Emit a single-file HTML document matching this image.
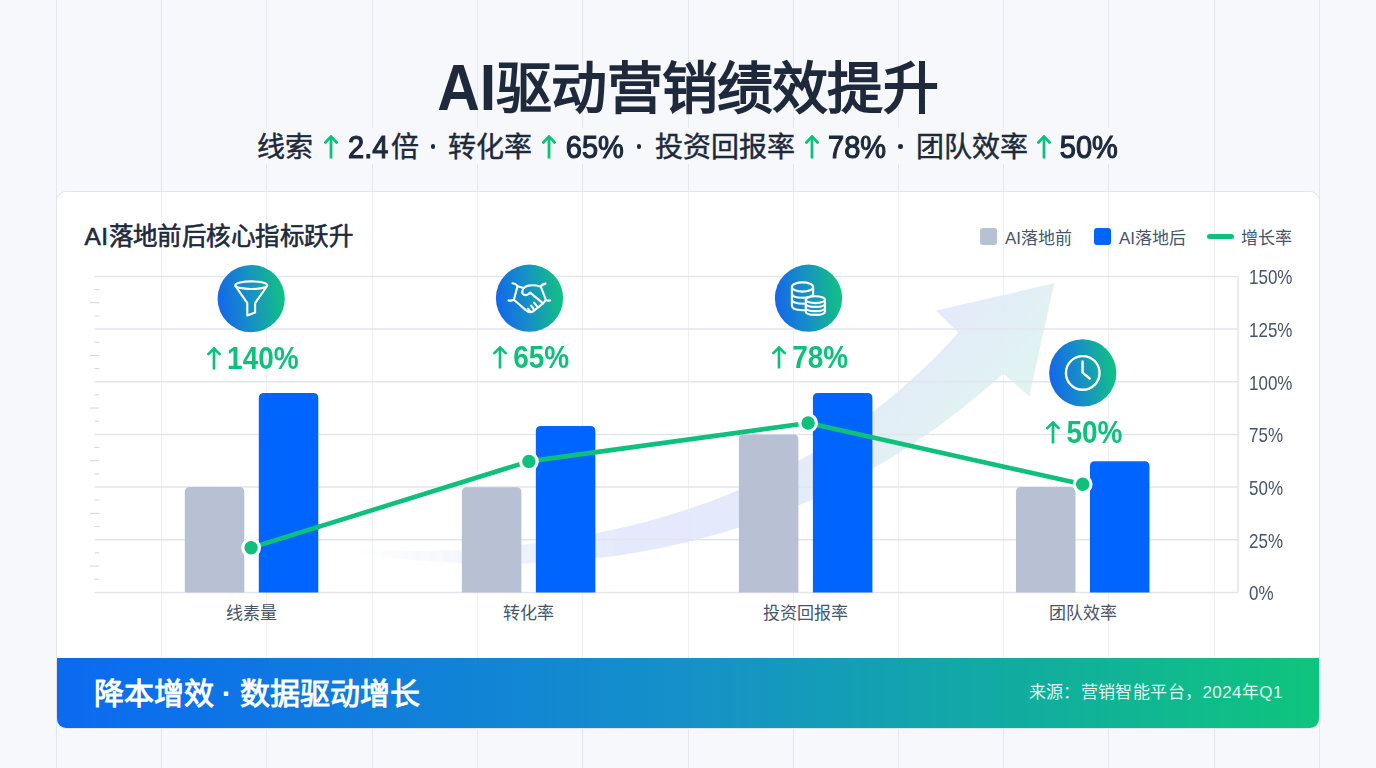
<!DOCTYPE html>
<html lang="zh-CN">
<head>
<meta charset="utf-8">
<title>AI驱动营销绩效提升</title>
<style>
*{margin:0;padding:0;box-sizing:border-box;}
html,body{width:1376px;height:768px;overflow:hidden;}
body{position:relative;background:#f6f8fb;font-family:"Liberation Sans",sans-serif;color:#1e293b;}
.vl{position:absolute;top:0;width:1px;height:768px;background:#e3e7ee;}
.abs{position:absolute;white-space:nowrap;}
#title{left:-0.5px;width:1376px;top:51.5px;text-align:center;font-size:56px;font-weight:700;line-height:72px;color:#1e293b;}
.sp{top:128px;font-size:28px;font-weight:400;-webkit-text-stroke:0.45px #1e293b;line-height:40px;color:#1e293b;}
.spn{font-size:29px;top:127px;transform:scaleY(1.08);font-weight:400;-webkit-text-stroke:1.1px #1e293b;}
.ar{display:inline-block;vertical-align:baseline;}
#card{position:absolute;left:57px;top:192px;width:1262px;height:536px;box-shadow:0 0 0 1px #e2e6ec;border-radius:9px;background:#fff;overflow:hidden;}
.vi{position:absolute;top:192px;width:1px;height:466px;background:#eef0f5;}
#banner{position:absolute;left:0;bottom:0;width:1262px;height:70px;background:linear-gradient(90deg,#0a6af1 0%,#1591c8 50%,#0ec57d 100%);}
#ctitle{left:84.5px;top:219.5px;font-size:24.5px;font-weight:400;letter-spacing:0.45px;-webkit-text-stroke:0.6px #1e293b;line-height:34px;color:#1e293b;}
.leg{position:absolute;font-size:17px;color:#475569;line-height:24px;top:226.5px;white-space:nowrap;}
.sq{position:absolute;width:17px;height:17px;border-radius:3px;top:228px;}
.yl{position:absolute;font-size:17px;color:#475569;line-height:20px;left:1249px;white-space:nowrap;transform:scaleY(1.15);}
.xl{position:absolute;font-size:17px;color:#475569;line-height:24px;top:602px;text-align:center;width:160px;white-space:nowrap;}
.pct{position:absolute;font-size:28px;font-weight:700;color:#0fc07c;line-height:34px;text-align:center;width:160px;white-space:nowrap;}
#bl{left:93.5px;top:674px;font-size:30px;font-weight:700;color:#fff;line-height:40px;}
#br{left:1028.5px;top:680.5px;font-size:17px;letter-spacing:0.4px;color:rgba(255,255,255,0.88);line-height:24px;}
#chart{position:absolute;left:0;top:0;}
</style>
</head>
<body>
<div class="vl" style="left:56px"></div>
<div class="vl" style="left:161px"></div>
<div class="vl" style="left:266px"></div>
<div class="vl" style="left:372px"></div>
<div class="vl" style="left:477px"></div>
<div class="vl" style="left:582px"></div>
<div class="vl" style="left:688px"></div>
<div class="vl" style="left:793px"></div>
<div class="vl" style="left:898px"></div>
<div class="vl" style="left:1003px"></div>
<div class="vl" style="left:1108px"></div>
<div class="vl" style="left:1214px"></div>
<div class="vl" style="left:1319px"></div>
<div id="card"><div id="banner"></div></div>
<div class="vi" style="left:161px"></div>
<div class="vi" style="left:266px"></div>
<div class="vi" style="left:372px"></div>
<div class="vi" style="left:477px"></div>
<div class="vi" style="left:582px"></div>
<div class="vi" style="left:688px"></div>
<div class="vi" style="left:793px"></div>
<div class="vi" style="left:898px"></div>
<div class="vi" style="left:1003px"></div>
<div class="vi" style="left:1108px"></div>
<div class="vi" style="left:1214px"></div>
<svg id="chart" width="1376" height="768" viewBox="0 0 1376 768">
<defs>
<linearGradient id="ig" x1="0" y1="0.56" x2="1" y2="0.44">
<stop offset="0" stop-color="#1466ea"/><stop offset="0.5" stop-color="#1693c2"/><stop offset="1" stop-color="#12c27f"/>
</linearGradient>
<linearGradient id="ig3" gradientUnits="userSpaceOnUse" x1="774.9" y1="302.23" x2="842.1" y2="294.17">
<stop offset="0" stop-color="#1466ea"/><stop offset="0.5" stop-color="#1693c2"/><stop offset="1" stop-color="#12c27f"/>
</linearGradient>
<linearGradient id="sw" gradientUnits="userSpaceOnUse" x1="625" y1="625" x2="712" y2="712">
<stop offset="0" stop-color="#e2e9fb"/>
<stop offset="1" stop-color="#ddf4ef"/>
</linearGradient>
<linearGradient id="swf" gradientUnits="userSpaceOnUse" x1="350" y1="0" x2="620" y2="0">
<stop offset="0" stop-color="#fff" stop-opacity="0"/>
<stop offset="1" stop-color="#fff" stop-opacity="1"/>
</linearGradient>
<mask id="swm" maskUnits="userSpaceOnUse" x="0" y="0" width="1376" height="768"><rect x="0" y="0" width="1376" height="768" fill="url(#swf)"/></mask>
</defs>
<path d="M340.0 547.8 L348.0 548.5 L356.0 549.1 L364.0 549.6 L372.0 550.0 L380.0 550.4 L388.0 550.7 L396.0 550.9 L404.0 551.0 L412.0 551.1 L420.0 551.1 L428.0 551.0 L436.0 550.8 L444.0 550.6 L452.0 550.3 L460.0 549.9 L468.0 549.5 L476.0 549.0 L484.0 548.4 L492.0 547.8 L500.0 547.1 L508.0 546.4 L516.0 545.5 L524.0 544.6 L532.0 543.6 L540.0 542.6 L548.0 541.5 L556.0 540.3 L564.0 539.0 L572.0 537.7 L580.0 536.3 L588.0 534.8 L596.0 533.3 L604.0 531.6 L612.0 529.9 L620.0 528.1 L628.0 526.2 L636.0 524.3 L644.0 522.2 L652.0 520.0 L660.0 517.8 L668.0 515.5 L676.0 513.0 L684.0 510.5 L692.0 507.8 L700.0 505.1 L708.0 502.2 L716.0 499.2 L724.0 496.1 L732.0 492.9 L740.0 489.6 L748.0 486.1 L756.0 482.5 L764.0 478.7 L772.0 474.8 L780.0 470.8 L788.0 466.6 L796.0 462.3 L804.0 457.8 L812.0 453.2 L820.0 448.4 L828.0 443.4 L836.0 438.2 L844.0 432.8 L852.0 427.3 L860.0 421.6 L868.0 415.6 L876.0 409.5 L884.0 403.1 L892.0 396.6 L900.0 389.8 L908.0 382.8 L916.0 375.5 L924.0 368.0 L932.0 360.3 L940.0 352.3 L948.0 344.0 L956.0 335.5 L958.5 332.6 L935.9 310.5 L1054.3 283.3 L1029.3 396.6 L1003.9 374.0 L1000.0 376.5 L992.0 383.5 L984.0 390.4 L976.0 397.1 L968.0 403.6 L960.0 409.9 L952.0 416.1 L944.0 422.1 L936.0 427.9 L928.0 433.6 L920.0 439.1 L912.0 444.5 L904.0 449.7 L896.0 454.8 L888.0 459.7 L880.0 464.5 L872.0 469.1 L864.0 473.6 L856.0 478.0 L848.0 482.2 L840.0 486.3 L832.0 490.3 L824.0 494.1 L816.0 497.8 L808.0 501.4 L800.0 504.9 L792.0 508.2 L784.0 511.4 L776.0 514.6 L768.0 517.6 L760.0 520.5 L752.0 523.3 L744.0 525.9 L736.0 528.5 L728.0 531.0 L720.0 533.4 L712.0 535.6 L704.0 537.8 L696.0 539.9 L688.0 541.9 L680.0 543.8 L672.0 545.6 L664.0 547.3 L656.0 548.9 L648.0 550.4 L640.0 551.8 L632.0 553.2 L624.0 554.5 L616.0 555.7 L608.0 556.8 L600.0 557.8 L592.0 558.7 L584.0 559.6 L576.0 560.4 L568.0 561.1 L560.0 561.7 L552.0 562.2 L544.0 562.7 L536.0 563.1 L528.0 563.4 L520.0 563.7 L512.0 563.8 L504.0 563.9 L496.0 564.0 L488.0 563.9 L480.0 563.8 L472.0 563.6 L464.0 563.3 L456.0 563.0 L448.0 562.6 L440.0 562.1 L432.0 561.6 L424.0 560.9 L416.0 560.2 L408.0 559.5 L400.0 558.6 L392.0 557.7 L384.0 556.7 L376.0 555.6 L368.0 554.5 L360.0 553.3 L352.0 552.0 L344.0 550.6 L340.0 549.9 Z" fill="url(#sw)" mask="url(#swm)" opacity="0.92"/>
<line x1="94.5" y1="592.40" x2="1238.0" y2="592.40" stroke="#e3e5ec" stroke-width="1.5"/>
<line x1="94.5" y1="539.73" x2="1238.0" y2="539.73" stroke="#e3e5ec" stroke-width="1.5"/>
<line x1="94.5" y1="487.06" x2="1238.0" y2="487.06" stroke="#e3e5ec" stroke-width="1.5"/>
<line x1="94.5" y1="434.39" x2="1238.0" y2="434.39" stroke="#e3e5ec" stroke-width="1.5"/>
<line x1="94.5" y1="381.72" x2="1238.0" y2="381.72" stroke="#e3e5ec" stroke-width="1.5"/>
<line x1="94.5" y1="329.05" x2="1238.0" y2="329.05" stroke="#e3e5ec" stroke-width="1.5"/>
<line x1="94.5" y1="276.38" x2="1238.0" y2="276.38" stroke="#e3e5ec" stroke-width="1.5"/>
<line x1="1238.0" y1="276.38" x2="1238.0" y2="592.40" stroke="#e3e5ec" stroke-width="1.5"/>
<line x1="94.6" y1="579.23" x2="99.2" y2="579.23" stroke="#cfd5e1" stroke-width="1"/>
<line x1="89.9" y1="566.06" x2="99.2" y2="566.06" stroke="#cfd5e1" stroke-width="1"/>
<line x1="94.6" y1="552.90" x2="99.2" y2="552.90" stroke="#cfd5e1" stroke-width="1"/>
<line x1="94.6" y1="526.56" x2="99.2" y2="526.56" stroke="#cfd5e1" stroke-width="1"/>
<line x1="89.9" y1="513.39" x2="99.2" y2="513.39" stroke="#cfd5e1" stroke-width="1"/>
<line x1="94.6" y1="500.23" x2="99.2" y2="500.23" stroke="#cfd5e1" stroke-width="1"/>
<line x1="94.6" y1="473.89" x2="99.2" y2="473.89" stroke="#cfd5e1" stroke-width="1"/>
<line x1="89.9" y1="460.72" x2="99.2" y2="460.72" stroke="#cfd5e1" stroke-width="1"/>
<line x1="94.6" y1="447.56" x2="99.2" y2="447.56" stroke="#cfd5e1" stroke-width="1"/>
<line x1="94.6" y1="421.22" x2="99.2" y2="421.22" stroke="#cfd5e1" stroke-width="1"/>
<line x1="89.9" y1="408.06" x2="99.2" y2="408.06" stroke="#cfd5e1" stroke-width="1"/>
<line x1="94.6" y1="394.89" x2="99.2" y2="394.89" stroke="#cfd5e1" stroke-width="1"/>
<line x1="94.6" y1="368.55" x2="99.2" y2="368.55" stroke="#cfd5e1" stroke-width="1"/>
<line x1="89.9" y1="355.38" x2="99.2" y2="355.38" stroke="#cfd5e1" stroke-width="1"/>
<line x1="94.6" y1="342.22" x2="99.2" y2="342.22" stroke="#cfd5e1" stroke-width="1"/>
<line x1="94.6" y1="315.88" x2="99.2" y2="315.88" stroke="#cfd5e1" stroke-width="1"/>
<line x1="89.9" y1="302.71" x2="99.2" y2="302.71" stroke="#cfd5e1" stroke-width="1"/>
<line x1="94.6" y1="289.55" x2="99.2" y2="289.55" stroke="#cfd5e1" stroke-width="1"/>
<path d="M184.80 592.40 L184.80 491.90 Q184.80 486.90 189.80 486.90 L239.30 486.90 Q244.30 486.90 244.30 491.90 L244.30 592.40 Z" fill="#b8c1d3"/>
<path d="M258.80 592.40 L258.80 397.90 Q258.80 392.90 263.80 392.90 L313.30 392.90 Q318.30 392.90 318.30 397.90 L318.30 592.40 Z" fill="#0064fe"/>
<path d="M461.85 592.40 L461.85 492.20 Q461.85 487.20 466.85 487.20 L516.35 487.20 Q521.35 487.20 521.35 492.20 L521.35 592.40 Z" fill="#b8c1d3"/>
<path d="M535.85 592.40 L535.85 431.00 Q535.85 426.00 540.85 426.00 L590.35 426.00 Q595.35 426.00 595.35 431.00 L595.35 592.40 Z" fill="#0064fe"/>
<path d="M738.90 592.40 L738.90 439.50 Q738.90 434.50 743.90 434.50 L793.40 434.50 Q798.40 434.50 798.40 439.50 L798.40 592.40 Z" fill="#b8c1d3"/>
<path d="M812.90 592.40 L812.90 397.90 Q812.90 392.90 817.90 392.90 L867.40 392.90 Q872.40 392.90 872.40 397.90 L872.40 592.40 Z" fill="#0064fe"/>
<path d="M1015.95 592.40 L1015.95 491.90 Q1015.95 486.90 1020.95 486.90 L1070.45 486.90 Q1075.45 486.90 1075.45 491.90 L1075.45 592.40 Z" fill="#b8c1d3"/>
<path d="M1089.95 592.40 L1089.95 466.30 Q1089.95 461.30 1094.95 461.30 L1144.45 461.30 Q1149.45 461.30 1149.45 466.30 L1149.45 592.40 Z" fill="#0064fe"/>
<path d="M251.1 547.8 L528.9 461.4 L808.1 423.0 L1082.7 484.2" stroke="#0fc07c" stroke-width="4.6" fill="none" stroke-linejoin="round"/>
<circle cx="251.1" cy="547.8" r="8.3" fill="#0fc07c" stroke="#fff" stroke-width="3.2"/>
<circle cx="528.9" cy="461.4" r="8.3" fill="#0fc07c" stroke="#fff" stroke-width="3.2"/>
<circle cx="808.1" cy="423.0" r="8.3" fill="#0fc07c" stroke="#fff" stroke-width="3.2"/>
<circle cx="1082.7" cy="484.2" r="8.3" fill="#0fc07c" stroke="#fff" stroke-width="3.2"/>
<circle cx="251.2" cy="298.6" r="33.6" fill="url(#ig)"/>
<circle cx="529.5" cy="298.2" r="33.6" fill="url(#ig)"/>
<circle cx="808.5" cy="298.2" r="33.6" fill="url(#ig)"/>
<circle cx="1082.75" cy="372.9" r="33.6" fill="url(#ig)"/>
<g transform="translate(251.2,298.6)" stroke="#fff" stroke-width="2.1" fill="none" stroke-linecap="round" stroke-linejoin="round"><ellipse cx="0.1" cy="-13.4" rx="16" ry="3.8"/><path d="M-15.6 -12.4 L-3.9 4.6 L-3.9 16.9 L3.9 13.8 L3.9 4.6 L15.8 -12.4"/></g>
<g transform="translate(529.5,298.2)" stroke="#fff" stroke-width="2.1" fill="none" stroke-linecap="round" stroke-linejoin="round"><path d="M-17 -15 Q-13 -14.6 -12 -12 L-15.6 1.6 Q-18 2.8 -21 2.2"/><path d="M16 -14.6 Q12.4 -14 11.3 -11.5 L16.4 1.6 Q18.4 2.8 20.7 2.2"/><path d="M-12 -12 L-5.6 -10.2"/><path d="M11.3 -11.5 Q5 -13.6 -1 -12.6 Q-4 -12 -5.6 -10.2 Q-8.4 -6.4 -6.6 -4.2 Q-4.4 -2.2 -1.4 -3.8 L0.6 -5.6 L13.6 5.2"/><path d="M-15.6 1.6 L-3.4 12.2 Q0.4 15.2 4.2 12.8 L13.6 5.2 Q15.4 3.2 16.4 1.6"/><path d="M-1.6 10.4 L0.4 12.8 M1.6 7.4 L4.6 11.4 M4.6 4.4 L8.2 9"/></g>
<g stroke="#fff" stroke-width="2.1" fill="none" stroke-linecap="round" stroke-linejoin="round"><ellipse cx="802.5" cy="287" rx="10.6" ry="4.6"/><path d="M791.9 287 L791.9 305.6 Q791.9 310.2 802.5 310.2 Q806 310.2 806 310.2"/><path d="M791.9 293.2 Q791.9 297.8 802.5 297.8 Q811 297.8 813.1 294.6"/><path d="M791.9 299.4 Q791.9 304 805.6 303.8"/><path d="M813.1 287 L813.1 294.2"/></g>
<g stroke="#fff" stroke-width="2.1" fill="none" stroke-linecap="round" stroke-linejoin="round"><path d="M805.8 299.7 L805.8 311.5 Q805.8 314.9 815.4 314.9 Q825 314.9 825 311.5 L825 299.7" fill="url(#ig3)"/><ellipse cx="815.4" cy="299.7" rx="9.6" ry="3.4" fill="url(#ig3)"/><path d="M805.8 303.5 Q805.8 306.9 815.4 306.9 Q825 306.9 825 303.5"/><path d="M805.8 307.7 Q805.8 311.1 815.4 311.1 Q825 311.1 825 307.7"/></g>
<g transform="translate(1082.75,372.9)" stroke="#fff" stroke-width="2.4" fill="none" stroke-linecap="round" stroke-linejoin="round"><circle r="16.8"/><path d="M-0.2 -11.4 L-0.2 -0.3 L6.9 5.6"/></g>
</svg>
<div id="title" class="abs"><span style="font-size:59px;display:inline-block;transform:scaleY(1.1)">AI</span><span style="letter-spacing:-0.8px">驱动营销绩效提升</span></div>
<div style="position:absolute;left:249px;top:128px;width:877px;height:36px;background:#f6f8fb"></div>
<div class="abs sp spc" style="left:256.9px">线索</div>
<div class="abs" style="left:324.2px;top:134.5px;line-height:0"><svg class="ar" width="14" height="24" viewBox="0 0 14 24"><path d="M7.0 23.5 L7.0 1.68" stroke="#0fc07c" stroke-width="2.8" fill="none"/><path d="M1.4 7.4399999999999995 L7.0 1.54 L12.6 7.4399999999999995" stroke="#0fc07c" stroke-width="2.8" fill="none" stroke-linecap="round" stroke-linejoin="miter"/></svg></div>
<div class="abs sp spn" style="left:348.0px">2.4</div>
<div class="abs sp spc" style="left:391.4px">倍</div>
<div class="abs" style="left:430.8px;top:144.3px;width:4.6px;height:4.6px;border-radius:50%;background:#1e293b"></div>
<div class="abs sp spc" style="left:448.4px">转化率</div>
<div class="abs" style="left:542.1px;top:134.5px;line-height:0"><svg class="ar" width="14" height="24" viewBox="0 0 14 24"><path d="M7.0 23.5 L7.0 1.68" stroke="#0fc07c" stroke-width="2.8" fill="none"/><path d="M1.4 7.4399999999999995 L7.0 1.54 L12.6 7.4399999999999995" stroke="#0fc07c" stroke-width="2.8" fill="none" stroke-linecap="round" stroke-linejoin="miter"/></svg></div>
<div class="abs sp spn" style="left:565.8px">65%</div>
<div class="abs" style="left:636.9px;top:144.3px;width:4.6px;height:4.6px;border-radius:50%;background:#1e293b"></div>
<div class="abs sp spc" style="left:654.7px">投资回报率</div>
<div class="abs" style="left:804.8px;top:134.5px;line-height:0"><svg class="ar" width="14" height="24" viewBox="0 0 14 24"><path d="M7.0 23.5 L7.0 1.68" stroke="#0fc07c" stroke-width="2.8" fill="none"/><path d="M1.4 7.4399999999999995 L7.0 1.54 L12.6 7.4399999999999995" stroke="#0fc07c" stroke-width="2.8" fill="none" stroke-linecap="round" stroke-linejoin="miter"/></svg></div>
<div class="abs sp spn" style="left:828.0px">78%</div>
<div class="abs" style="left:898.1px;top:144.3px;width:4.6px;height:4.6px;border-radius:50%;background:#1e293b"></div>
<div class="abs sp spc" style="left:916.3px">团队效率</div>
<div class="abs" style="left:1036.6px;top:134.5px;line-height:0"><svg class="ar" width="14" height="24" viewBox="0 0 14 24"><path d="M7.0 23.5 L7.0 1.68" stroke="#0fc07c" stroke-width="2.8" fill="none"/><path d="M1.4 7.4399999999999995 L7.0 1.54 L12.6 7.4399999999999995" stroke="#0fc07c" stroke-width="2.8" fill="none" stroke-linecap="round" stroke-linejoin="miter"/></svg></div>
<div class="abs sp spn" style="left:1059.8px">50%</div>
<div id="ctitle" class="abs">AI落地前后核心指标跃升</div>
<div class="sq" style="left:980px;background:#b8c1d3"></div><div class="leg" style="left:1005px">AI落地前</div>
<div class="sq" style="left:1094px;background:#0064fe"></div><div class="leg" style="left:1119px">AI落地后</div>
<div style="position:absolute;left:1207px;top:234px;width:27px;height:5px;border-radius:3px;background:#0fc07c"></div><div class="leg" style="left:1241px">增长率</div>
<div class="yl" style="top:584.2px">0%</div>
<div class="yl" style="top:531.5px">25%</div>
<div class="yl" style="top:478.9px">50%</div>
<div class="yl" style="top:426.2px">75%</div>
<div class="yl" style="top:373.5px">100%</div>
<div class="yl" style="top:320.8px">125%</div>
<div class="yl" style="top:268.2px">150%</div>
<div class="xl" style="left:171.6px">线素量</div>
<div class="xl" style="left:448.6px">转化率</div>
<div class="xl" style="left:725.7px">投资回报率</div>
<div class="xl" style="left:1002.8px">团队效率</div>
<div class="pct" style="left:172.9px;top:341.6px"><span style="display:inline-block;margin-right:6px;vertical-align:-2px"><svg class="ar" width="14" height="23" viewBox="0 0 14 23"><path d="M7.0 22.5 L7.0 1.62" stroke="#0fc07c" stroke-width="2.7" fill="none"/><path d="M1.35 7.13 L7.0 1.4850000000000003 L12.65 7.13" stroke="#0fc07c" stroke-width="2.7" fill="none" stroke-linecap="round" stroke-linejoin="miter"/></svg></span><span style="display:inline-block;transform:scaleY(1.12)">140%</span></div>
<div class="pct" style="left:451.2px;top:341.2px"><span style="display:inline-block;margin-right:6px;vertical-align:-2px"><svg class="ar" width="14" height="23" viewBox="0 0 14 23"><path d="M7.0 22.5 L7.0 1.62" stroke="#0fc07c" stroke-width="2.7" fill="none"/><path d="M1.35 7.13 L7.0 1.4850000000000003 L12.65 7.13" stroke="#0fc07c" stroke-width="2.7" fill="none" stroke-linecap="round" stroke-linejoin="miter"/></svg></span><span style="display:inline-block;transform:scaleY(1.12)">65%</span></div>
<div class="pct" style="left:730.2px;top:341.2px"><span style="display:inline-block;margin-right:6px;vertical-align:-2px"><svg class="ar" width="14" height="23" viewBox="0 0 14 23"><path d="M7.0 22.5 L7.0 1.62" stroke="#0fc07c" stroke-width="2.7" fill="none"/><path d="M1.35 7.13 L7.0 1.4850000000000003 L12.65 7.13" stroke="#0fc07c" stroke-width="2.7" fill="none" stroke-linecap="round" stroke-linejoin="miter"/></svg></span><span style="display:inline-block;transform:scaleY(1.12)">78%</span></div>
<div class="pct" style="left:1004.5px;top:415.9px"><span style="display:inline-block;margin-right:6px;vertical-align:-2px"><svg class="ar" width="14" height="23" viewBox="0 0 14 23"><path d="M7.0 22.5 L7.0 1.62" stroke="#0fc07c" stroke-width="2.7" fill="none"/><path d="M1.35 7.13 L7.0 1.4850000000000003 L12.65 7.13" stroke="#0fc07c" stroke-width="2.7" fill="none" stroke-linecap="round" stroke-linejoin="miter"/></svg></span><span style="display:inline-block;transform:scaleY(1.12)">50%</span></div>
<div id="bl" class="abs">降本增效 · 数据驱动增长</div>
<div id="br" class="abs">来源：营销智能平台，2024年Q1</div>
</body>
</html>
